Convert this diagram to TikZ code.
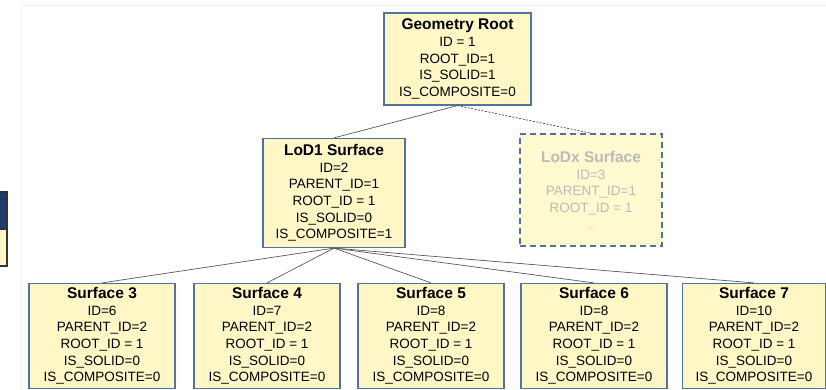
\documentclass[tikz,border=0pt]{standalone}
\usepackage{fontspec}
\setmainfont{Liberation Sans}

\definecolor{boxfill}{HTML}{FFF8C6}
\definecolor{boxline}{HTML}{5272A0}
\definecolor{fadetext}{HTML}{BABABA}
\definecolor{navyhead}{HTML}{1D3C6B}

\tikzset{
  geombox/.style={draw=boxline, fill=boxfill, line width=1.2pt, align=center,
    inner sep=0pt, font=\fontsize{13.5}{16.6}\selectfont},
  lodxbox/.style={geombox, dash pattern=on 6pt off 4pt, line width=1.6pt,
    text=fadetext, fill=boxfill!85!white},
  link/.style={draw=black!65, line width=0.7pt}
}
\newcommand{\boxtitle}[1]{{\fontsize{15.5}{18}\selectfont\bfseries #1}\\[0pt]}

\begin{document}
\begin{tikzpicture}[x=1pt,y=-1pt]
\useasboundingbox (0,0) rectangle (826,390);
% faint slide frame and cut-off legend at the left
\draw[black!5, line width=0.8pt] (21,390) -- (21,5) -- (826,5);
\filldraw[fill=navyhead, draw=black!80, line width=1.2pt] (-5,192) rectangle (7,229);
\filldraw[fill=boxfill, draw=black!80, line width=1.2pt] (-5,229) rectangle (7,266);

% top two levels
\node[geombox, minimum width=147pt, minimum height=92pt] (root) at (457.5,59)
  {\boxtitle{Geometry Root}ID = 1\\ROOT\_ID=1\\IS\_SOLID=1\\IS\_COMPOSITE=0};
\node[geombox, minimum width=142pt, minimum height=109pt] (lod1) at (334,193)
  {\boxtitle{LoD1 Surface}ID=2\\PARENT\_ID=1\\ROOT\_ID = 1\\IS\_SOLID=0\\IS\_COMPOSITE=1};
\node[lodxbox, minimum width=142pt, minimum height=112pt] (lodx) at (591,190)
  {\boxtitle{LoDx Surface}ID=3\\PARENT\_ID=1\\ROOT\_ID = 1\\{\small\dots}};

% leaf surfaces
\node[geombox, minimum width=146pt, minimum height=105pt] (s3) at (102,336)
  {\boxtitle{Surface 3}ID=6\\PARENT\_ID=2\\ROOT\_ID = 1\\IS\_SOLID=0\\IS\_COMPOSITE=0};
\node[geombox, minimum width=146pt, minimum height=105pt] (s4) at (267,336)
  {\boxtitle{Surface 4}ID=7\\PARENT\_ID=2\\ROOT\_ID = 1\\IS\_SOLID=0\\IS\_COMPOSITE=0};
\node[geombox, minimum width=146pt, minimum height=105pt] (s5) at (431,336)
  {\boxtitle{Surface 5}ID=8\\PARENT\_ID=2\\ROOT\_ID = 1\\IS\_SOLID=0\\IS\_COMPOSITE=0};
\node[geombox, minimum width=146pt, minimum height=105pt] (s6) at (594,336)
  {\boxtitle{Surface 6}ID=8\\PARENT\_ID=2\\ROOT\_ID = 1\\IS\_SOLID=0\\IS\_COMPOSITE=0};
\node[geombox, minimum width=143pt, minimum height=105pt] (s7) at (754,336)
  {\boxtitle{Surface 7}ID=10\\PARENT\_ID=2\\ROOT\_ID = 1\\IS\_SOLID=0\\IS\_COMPOSITE=0};

% connectors
\draw[link] (root.south) -- (lod1.north);
\draw[link, draw=black!75, dash pattern=on 2pt off 1.5pt] (root.south) -- (lodx.north);
\foreach \leaf in {s3,s4,s5,s6,s7}
  \draw[link] (lod1.south) -- (\leaf.north);
\end{tikzpicture}
\end{document}
